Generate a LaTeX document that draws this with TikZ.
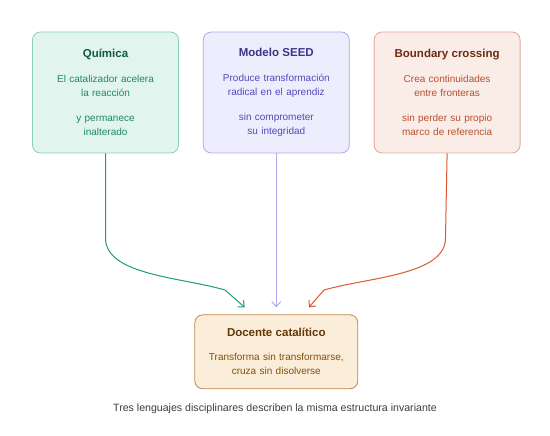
\documentclass[tikz,border=0pt]{standalone}
\usepackage{fontspec}
\setmainfont{Liberation Sans}
\usetikzlibrary{arrows.meta,positioning}

\definecolor{quimFill}{HTML}{E1F5EE}
\definecolor{quimLine}{HTML}{8CCFB3}
\definecolor{quimTitle}{HTML}{0F5A44}
\definecolor{quimText}{HTML}{1D8A62}
\definecolor{seedFill}{HTML}{EEEDFE}
\definecolor{seedLine}{HTML}{AFA9EC}
\definecolor{seedTitle}{HTML}{3C3489}
\definecolor{seedText}{HTML}{534AB7}
\definecolor{bndFill}{HTML}{FAECE7}
\definecolor{bndLine}{HTML}{E2A898}
\definecolor{bndTitle}{HTML}{712B13}
\definecolor{bndText}{HTML}{B8502F}
\definecolor{docFill}{HTML}{FAEEDA}
\definecolor{docLine}{HTML}{BA8A50}
\definecolor{docTitle}{HTML}{633806}
\definecolor{docText}{HTML}{854F0B}
\definecolor{arrGreen}{HTML}{1D9E75}
\definecolor{arrPurple}{HTML}{AFA9EC}
\definecolor{arrOrange}{HTML}{D85A30}
\definecolor{noteText}{HTML}{3D3D3A}

\begin{document}
\begin{tikzpicture}[
    x=1pt, y=-1pt,
    node distance=24pt,
    every node/.style={font=\fontsize{10}{14.5}\selectfont},
    box/.style={draw, rounded corners=8pt, line width=0.8pt, align=center, minimum width=146pt, minimum height=121pt, text width=140pt, inner sep=0pt},
    chem/.style={box, fill=quimFill, draw=quimLine, text=quimText},
    seed/.style={box, fill=seedFill, draw=seedLine, text=seedText},
    bound/.style={box, fill=bndFill, draw=bndLine, text=bndText},
    result/.style={box, fill=docFill, draw=docLine, text=docText, minimum width=163pt, minimum height=74pt, text width=160pt},
    note/.style={font=\fontsize{10.6}{13}\selectfont, text=noteText},
    flow/.style={-{Straight Barb[length=5pt, width=9pt]}, line width=1pt}
]
\useasboundingbox (0,0) rectangle (550,436);

\node[chem] (quimica) at (105.5,92.5) {{\fontsize{11.5}{14}\selectfont\bfseries\textcolor{quimTitle}{Química}}\\[10pt]El catalizador acelera\\la reacción\\[10pt]y permanece\\inalterado};
\node[seed, right=of quimica] (modelo) {{\fontsize{11.5}{14}\selectfont\bfseries\textcolor{seedTitle}{Modelo SEED}}\\[10pt]Produce transformación\\radical en el aprendiz\\[10pt]sin comprometer\\su integridad};
\node[bound, right=of modelo] (boundary) {{\fontsize{11.5}{14}\selectfont\bfseries\textcolor{bndTitle}{Boundary crossing}}\\[10pt]Crea continuidades\\entre fronteras\\[10pt]sin perder su propio\\marco de referencia};
\node[result, below=161pt of modelo] (docente) {{\fontsize{11.5}{14}\selectfont\bfseries\textcolor{docTitle}{Docente catalítico}}\\[9pt]Transforma sin transformarse,\\cruza sin disolverse};
\node[note] (nota) at (275,409) {Tres lenguajes disciplinares describen la misma estructura invariante};

% arrow ends just above the result box
\coordinate (inA) at ([xshift=-31.5pt, yshift=7pt]docente.north);
\coordinate (inB) at ([yshift=7pt]docente.north);
\coordinate (inC) at ([xshift=32.5pt, yshift=7pt]docente.north);

\draw[flow, arrGreen] (quimica.south) -- (105.5,238) .. controls (105.5,275) and (180,277) .. (225,290) -- (inA);
\draw[flow, arrPurple] (modelo.south) -- (inB);
\draw[flow, arrOrange] (boundary.south) -- (445.5,238) .. controls (445.5,275) and (370,277) .. (324,290) -- (inC);
\end{tikzpicture}
\end{document}
